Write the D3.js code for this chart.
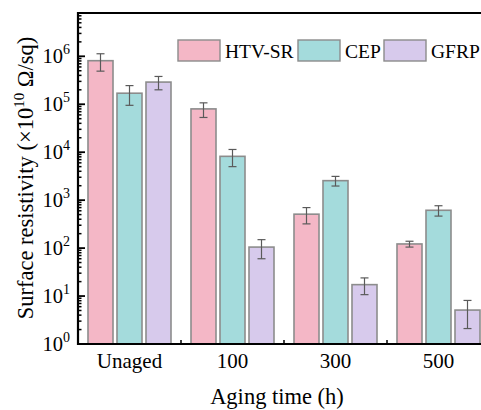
<!DOCTYPE html>
<html><head><meta charset="utf-8">
<script src="https://cdn.jsdelivr.net/npm/d3@7"></script>
<style>body{margin:0;background:#fff}svg{display:block}text{font-family:"Liberation Serif","Times New Roman",serif;fill:#000}</style>
</head><body><svg id="c" width="481" height="410"></svg>
<script>
const categories = ["Unaged", "100", "300", "500"];
const seriesNames = ["HTV-SR", "CEP", "GFRP"];
const htvsr = [8.1e5, 8.0e4, 510, 122];
const cep = [1.7e5, 8.2e3, 2550, 615];
const gfrp = [2.9e5, 105, 17.3, 5.1];
const htvsrErr = [3.2e5, 2.7e4, 190, 17];
const cepErr = [7.5e4, 3.2e3, 580, 150];
const gfrpErr = [9e4, 45, 6.6, 3];
const yTickExps = [0, 1, 2, 3, 4, 5, 6];
const colors = ["#F4B7C6", "#A4DBDC", "#D7CAEC"];

const values = [htvsr, cep, gfrp];
const errs = [htvsrErr, cepErr, gfrpErr];
const svg = d3.select("#c");
const L = 78, R = 490, T = 13, B = 344;
const x0 = d3.scaleBand().domain(categories).range([L, R]).padding(0);
const x1 = d3.scaleBand().domain(seriesNames).range([10, 93]).paddingInner(4/29).paddingOuter(0);
const y = d3.scaleLog().domain([1, 8e6]).range([B, T]);

const data = [];
categories.forEach((c, i) => seriesNames.forEach((s, j) => data.push({c, s, j, v: values[j][i], e: errs[j][i]})));

const g = svg.append("g");
g.selectAll("rect.bar").data(data).enter().append("rect")
  .attr("x", d => x0(d.c) + x1(d.s)).attr("width", x1.bandwidth())
  .attr("y", d => y(d.v)).attr("height", d => B - y(d.v))
  .attr("fill", d => colors[d.j]).attr("stroke", "#8c8c8c").attr("stroke-width", 1.6);

const eb = g.selectAll("g.err").data(data).enter().append("g").attr("stroke", "#5a5a5a").attr("stroke-width", 1.2);
eb.append("line").attr("x1", d => x0(d.c) + x1(d.s) + x1.bandwidth()/2).attr("x2", d => x0(d.c) + x1(d.s) + x1.bandwidth()/2)
  .attr("y1", d => y(d.v + d.e)).attr("y2", d => y(Math.max(d.v - d.e, 1.01)));
[d => d.v + d.e, d => Math.max(d.v - d.e, 1.01)].forEach(fn => {
  eb.append("line").attr("x1", d => x0(d.c) + x1(d.s) + x1.bandwidth()/2 - 4).attr("x2", d => x0(d.c) + x1(d.s) + x1.bandwidth()/2 + 4)
    .attr("y1", d => y(fn(d))).attr("y2", d => y(fn(d)));
});

// axes frame
svg.append("line").attr("x1", L).attr("x2", R).attr("y1", T).attr("y2", T).attr("stroke", "#000").attr("stroke-width", 2.2);
svg.append("line").attr("x1", L).attr("x2", R).attr("y1", B).attr("y2", B).attr("stroke", "#000").attr("stroke-width", 2.2);
svg.append("line").attr("x1", L).attr("x2", L).attr("y1", T - 1.1).attr("y2", B + 1.1).attr("stroke", "#000").attr("stroke-width", 2.2);

// y ticks
const minor = [];
for (let e = 0; e <= 6; e++) for (let m = 2; m <= 9; m++) { const v = m * Math.pow(10, e); if (v <= 8e6) minor.push(v); }
svg.selectAll("line.ymin").data(minor).enter().append("line").attr("x1", L).attr("x2", L + 3.5)
  .attr("y1", d => y(d)).attr("y2", d => y(d)).attr("stroke", "#000").attr("stroke-width", 1.5);
svg.selectAll("line.ymaj").data(yTickExps).enter().append("line").attr("x1", L).attr("x2", L + 7)
  .attr("y1", d => y(Math.pow(10, d))).attr("y2", d => y(Math.pow(10, d))).attr("stroke", "#000").attr("stroke-width", 1.8);
const yl = svg.selectAll("text.yl").data(yTickExps).enter().append("text")
  .attr("x", 70).attr("y", d => y(Math.pow(10, d)) + 7).attr("text-anchor", "end").attr("font-size", 20.5);
yl.append("tspan").text("10");
yl.append("tspan").attr("dy", -9).attr("font-size", 14).text(d => d);

// x ticks at group boundaries
svg.selectAll("line.xt").data(categories.slice(1)).enter().append("line")
  .attr("x1", d => x0(d)).attr("x2", d => x0(d)).attr("y1", B).attr("y2", B - 4).attr("stroke", "#000").attr("stroke-width", 1.5);
svg.selectAll("text.xl").data(categories).enter().append("text")
  .attr("x", d => x0(d) + x0.bandwidth()/2).attr("y", 368).attr("text-anchor", "middle").attr("font-size", 21).text(d => d);

// titles
svg.append("text").attr("x", 277).attr("y", 404).attr("text-anchor", "middle").attr("font-size", 22.5).text("Aging time (h)");
const yt = svg.append("text").attr("transform", "translate(33,178) rotate(-90)").attr("text-anchor", "middle").attr("font-size", 22.5);
yt.append("tspan").text("Surface resistivity (×10");
yt.append("tspan").attr("dy", -9).attr("font-size", 15).text("10");
yt.append("tspan").attr("dy", 9).text(" Ω/sq)");

// legend
const legX = [178, 298, 384];
const lg = svg.selectAll("g.leg").data(seriesNames).enter().append("g").attr("transform", (d, i) => `translate(${legX[i]},40)`);
lg.append("rect").attr("width", 42).attr("height", 21).attr("fill", (d, i) => colors[i]).attr("stroke", "#8c8c8c").attr("stroke-width", 1.4);
lg.append("text").attr("x", 47).attr("y", 17.5).attr("font-size", 19.5).text(d => d);
</script></body></html>
